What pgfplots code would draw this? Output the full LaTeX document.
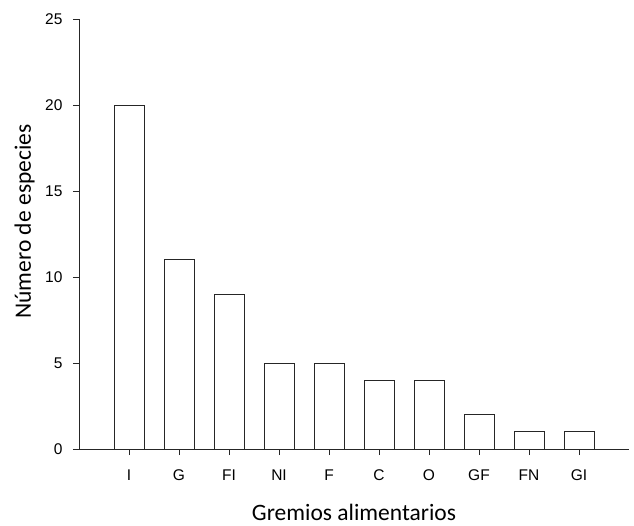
\documentclass[border=0pt]{standalone}
\usepackage{pgfplots}
\pgfplotsset{compat=1.18}
\usepackage{fontspec}
\setmainfont{Carlito}
\newfontfamily\arialf{Liberation Sans}
\begin{document}
\begin{tikzpicture}
\begin{axis}[
  scale only axis, width=550pt, height=430pt,
  xmin=-1, xmax=10, ymin=0, ymax=25,
  axis lines*=left,
  axis line style={line width=0.9pt, black!85},
  xtick={0,...,9},
  xticklabels={I,G,FI,NI,F,C,O,GF,FN,GI},
  ytick={0,5,10,15,20,25},
  tick align=outside, major tick length=6pt,
  tick style={line width=0.9pt, black!85},
  ticklabel style={font=\fontsize{15.5}{17}\arialf},
  /pgf/number format/assume math mode=true,
  yticklabel style={xshift=-7pt},
  xticklabel style={yshift=-11pt},
  xlabel={Gremios alimentarios},
  ylabel={Número de especies},
  label style={font=\fontsize{23.5}{28}\selectfont},
  xlabel style={at={(axis description cs:0.5,0)}, anchor=base, yshift=-71pt},
  ylabel style={at={(axis description cs:-0.0873,0.529)}, anchor=base},
  ybar, bar width=30pt,
  clip=false,
]
\addplot[fill=white, draw=black!85, line width=0.9pt] coordinates {
 (0,20) (1,11) (2,9) (3,5) (4,5) (5,4) (6,4) (7,2) (8,1) (9,1)};
\end{axis}
\path (-79pt,-76pt) rectangle ++(634pt,525pt);
\end{tikzpicture}
\end{document}
